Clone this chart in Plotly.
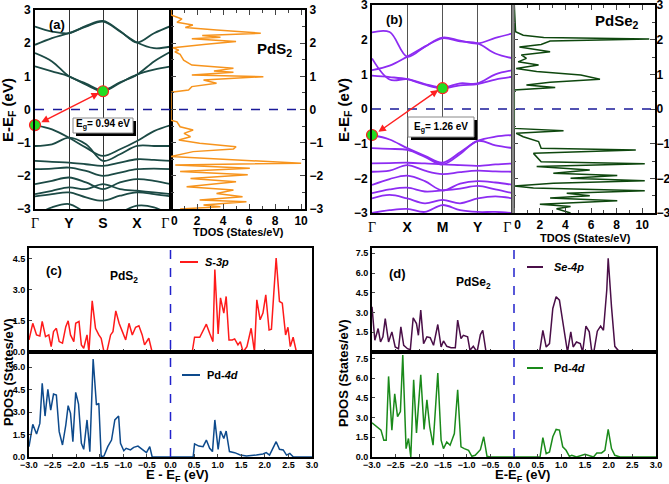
import plotly.graph_objects as go

W, H = 669, 484


def px(x):
    return x / W


def py(y):
    return 1 - y / H


# ---- band structures (energies at k = 0, 0.5, ..., 4) ----
k_pts = [0, 0.5, 1, 1.5, 2, 2.5, 3, 3.5, 4]
kpath_pds2 = ["Γ", "Y", "S", "X", "Γ"]
kpath_pdse2 = ["Γ", "X", "M", "Y", "Γ"]
tdos_ticks = [0, 2, 4, 6, 8, 10]

pds2_bands = [
    [1.30, 1.15, 1.00, 0.75, 0.55, 0.80, 1.05, 1.20, 1.30],
    [1.70, 1.45, 1.00, 0.78, 0.58, 0.82, 1.05, 1.45, 1.75],
    [1.95, 2.15, 2.30, 2.50, 2.65, 2.35, 2.02, 1.85, 1.90],
    [2.50, 2.35, 2.30, 2.52, 2.67, 2.37, 2.02, 2.30, 2.52],
    [-0.47, -0.60, -0.85, -1.15, -1.40, -1.20, -0.95, -0.65, -0.47],
    [-1.10, -1.05, -0.85, -1.05, -1.55, -1.35, -1.10, -1.10, -1.10],
    [-1.55, -1.58, -1.60, -1.65, -1.70, -1.60, -1.50, -1.52, -1.55],
    [-1.80, -1.78, -1.75, -1.85, -2.00, -1.90, -1.80, -1.78, -1.80],
    [-2.25, -2.15, -2.05, -2.20, -2.40, -2.20, -2.10, -2.15, -2.25],
    [-2.55, -2.45, -2.35, -2.40, -2.25, -2.40, -2.45, -2.50, -2.55],
    [-2.62, -2.55, -2.50, -2.65, -2.75, -2.60, -2.50, -2.55, -2.62],
    [-3.20, -2.95, -2.85, -3.10, -3.20, -3.10, -2.90, -2.95, -3.20],
]

pdse2_bands = [
    [0.96, 0.92, 0.86, 0.70, 0.60, 0.68, 0.72, 0.85, 0.93],
    [1.46, 0.85, 0.86, 0.72, 0.62, 0.74, 0.74, 1.00, 1.12],
    [1.12, 1.25, 1.51, 1.80, 2.04, 1.95, 1.89, 1.60, 1.46],
    [2.21, 2.22, 1.51, 1.80, 2.06, 1.97, 1.89, 2.05, 2.18],
    [-0.75, -0.88, -1.13, -1.35, -1.55, -1.25, -0.92, -0.80, -0.75],
    [-1.13, -1.15, -1.18, -1.38, -1.60, -1.30, -0.92, -1.05, -1.13],
    [-1.57, -1.56, -1.55, -1.57, -1.60, -1.62, -1.64, -1.60, -1.57],
    [-1.81, -1.78, -1.62, -1.78, -1.88, -1.82, -1.78, -1.80, -1.81],
    [-2.19, -2.02, -1.92, -2.08, -2.35, -2.15, -2.08, -2.12, -2.19],
    [-2.43, -2.32, -2.27, -2.38, -2.35, -2.30, -2.22, -2.32, -2.43],
    [-2.58, -2.48, -2.58, -2.72, -2.62, -2.72, -2.58, -2.52, -2.58],
    [-3.00, -2.92, -2.88, -2.97, -2.77, -2.92, -2.97, -2.97, -3.00],
]

# band edges (k, E)
pds2_vbm = (0, -0.47)
pds2_cbm = (2, 0.55)
pdse2_vbm = (0, -0.75)
pdse2_cbm = (2, 0.60)

# ---- total DOS ----
tdos_pds2_e = [3.0, 2.85, 2.73, 2.63, 2.55, 2.47, 2.40, 2.30, 2.23, 2.18, 2.13, 2.05,
               1.97, 1.86, 1.79, 1.74, 1.66, 1.59, 1.49, 1.34, 1.24, 1.16, 1.12, 1.04,
               0.99, 0.89, 0.79, 0.69, 0.59, 0.52, -0.32, -0.37, -0.52, -0.62, -0.72,
               -0.82, -0.92, -1.02, -1.12, -1.19, -1.27, -1.42, -1.52, -1.62, -1.67,
               -1.77, -1.87, -1.97, -2.08, -2.18, -2.33, -2.43, -2.53, -2.63, -2.73,
               -2.78, -2.88, -2.93, -3.0]
tdos_pds2 = [0, 0, 0.84, 0.46, 1.68, 1.1, 3.5, 6.9, 2.4, 3.8, 1.6, 5.0,
             2.7, 0.15, 0.6, 0.3, 0.7, 0.8, 0.97, 1.6, 4.8, 3.3, 4.8, 1.6,
             7.1, 2.5, 3.5, 1.6, 1.35, 0, 0, 0.46, 0.7, 1.7, 1.0,
             1.5, 0.6, 2.2, 5.0, 4.8, 1.7, 0, 4.8, 10.0, 0.33,
             6.06, 0.7, 5.9, 1.5, 5.0, 1.2, 4.8, 3.5, 5.5, 2.2,
             5.8, 2.5, 3.8, 0.7]

tdos_pdse2_e = [3.0, 2.23, 2.13, 2.06, 2.02, 1.96, 1.86, 1.79, 1.65, 1.56, 1.46, 1.36,
                1.27, 1.17, 1.08, 0.98, 0.86, 0.77, 0.69, 0.62, 0.55, -0.56, -0.63,
                -0.70, -0.80, -0.94, -1.13, -1.18, -1.28, -1.37, -1.52, -1.58, -1.66,
                -1.76, -1.85, -1.92, -2.00, -2.07, -2.14, -2.22, -2.28, -2.36, -2.43,
                -2.50, -2.57, -2.65, -2.75, -2.81, -2.88, -3.0]
tdos_pdse2 = [0, 0.1, 0.7, 2.3, 10.55, 2.8, 2.1, 0.4, 2.8, 0.55, 0.95, 0.3,
              1.9, 0.15, 1.75, 5.2, 6.7, 2.8, 0.95, 3.2, 0, 0, 3.85,
              0.15, 0.7, 1.9, 2.1, 9.5, 1.5, 1.75, 2.1, 10.2, 1.75,
              5.9, 3.05, 8.05, 4.4, 10.2, 3.05, 0, 1.5, 10.2, 4.1,
              5.9, 2.8, 8.05, 2.0, 4.4, 3.3, 4.4]

# ---- projected DOS, PdS2 ----
s3p_e = [-3.0, -2.92, -2.84, -2.77, -2.72, -2.65, -2.58, -2.53, -2.48, -2.42, -2.36,
         -2.29, -2.22, -2.17, -2.12, -2.05, -2.01, -1.94, -1.89, -1.84, -1.77, -1.73,
         -1.66, -1.59, -1.52, -1.47, -1.41, -1.35, -1.27, -1.22, -1.16, -1.09, -1.02,
         -0.95, -0.88, -0.81, -0.74, -0.67, -0.60, -0.55, -0.46, -0.39, 0.46, 0.51,
         0.62, 0.69, 0.76, 0.83, 0.90, 0.94, 1.01, 1.06, 1.13, 1.18, 1.24, 1.31, 1.36,
         1.43, 1.48, 1.54, 1.62, 1.71, 1.78, 1.83, 1.90, 1.96, 2.02, 2.09, 2.14, 2.19,
         2.24, 2.31, 2.37, 2.44, 2.49, 2.54, 2.60, 2.67, 3.0]
s3p = [0.58, 1.38, 0.82, 0.77, 1.47, 0.74, 0.82, 0.26, 0.98, 1.14, 0.5,
       0.42, 1.22, 1.5, 0.82, 0.5, 1.38, 1.47, 0.34, 0.18, 0.82, 0,
       2.46, 1.14, 0.82, 0.66, 0, 0, 0.82, 0.98, 1.98, 1.38, 0.98,
       0.58, 1.38, 0.82, 1.19, 1.26, 0.82, 0.34, 0.66, 0, 0, 0.71,
       0.71, 1.06, 1.34, 0.9, 0.5, 3.96, 0.87, 2.6, 1.87, 2.67, 0.58, 0.58, 0.63,
       0.34, 0.5, 0, 0.26, 1.14, 0, 2.51, 1.55, 1.87, 2.75, 1.06, 1.1, 2.83,
       4.52, 2.43, 2.35, 0.82, 1.19, 0.26, 0.71, 0, 0]

pd4d_s_e = [-3.0, -2.92, -2.84, -2.77, -2.72, -2.66, -2.60, -2.54, -2.48, -2.42, -2.36,
            -2.29, -2.22, -2.17, -2.12, -2.07, -2.01, -1.95, -1.89, -1.84, -1.77, -1.71,
            -1.64, -1.57, -1.52, -1.47, -1.41, -1.33, -1.25, -1.18, -1.10, -1.06, -0.99,
            -0.94, -0.85, -0.78, -0.69, -0.60, -0.51, -0.44, -0.39, 0.48, 0.51, 0.60,
            0.69, 0.76, 0.83, 0.89, 0.94, 1.01, 1.06, 1.13, 1.18, 1.25, 1.36, 1.48, 1.61,
            1.82, 1.96, 2.03, 2.10, 2.17, 2.24, 2.31, 2.39, 2.46, 2.53, 2.60, 3.0]
pd4d_s = [0.69, 2.18, 1.53, 2.24, 4.91, 2.73, 4.51, 3.13, 4.2, 4.13, 1.69,
          0.8, 2.13, 3.42, 2.91, 1.02, 4.31, 3.53, 0.91, 0.51, 2.47, 0.36,
          6.53, 3.47, 3.58, 0.02, 0.07, 0.69, 1.13, 2.47, 2.73, 0.91, 0.42,
          0.58, 0.47, 0.64, 0.73, 0.51, 0.29, 0.69, 0.02, 0, 0.87, 0.73,
          0.69, 1.13, 0.58, 0.36, 2.47, 0.51, 1.73, 1.24, 1.73, 0.36, 0.29, 0.13, 0.07,
          0.13, 0.2, 0.29, 0.13, 0.58, 1.02, 0.51, 0.47, 0.13, 0.24, 0.02, 0]

# ---- projected DOS, PdSe2 ----
se4p_e = [-3.0, -2.98, -2.94, -2.87, -2.82, -2.77, -2.72, -2.65, -2.58, -2.51, -2.44,
          -2.39, -2.33, -2.25, -2.19, -2.13, -2.06, -2.02, -1.97, -1.91, -1.84, -1.77,
          -1.70, -1.61, -1.54, -1.49, -1.42, -1.33, -1.24, -1.19, -1.12, -1.07, -0.98,
          -0.93, -0.86, -0.78, -0.71, -0.66, -0.59, 0.54, 0.61, 0.68, 0.75, 0.82, 0.89,
          0.96, 1.03, 1.10, 1.13, 1.20, 1.25, 1.32, 1.40, 1.45, 1.52, 1.59, 1.64, 1.69,
          1.76, 1.83, 1.89, 1.96, 1.99, 2.06, 2.13, 2.20, 2.27, 3.0]
se4p = [3.43, 2.67, 0.89, 1.78, 0.76, 1.15, 2.54, 0.76, 1.53, 0.38, 0.25,
        1.91, 0.51, 0.25, 0.18, 2.6, 2.16, 1.27, 3.18, 0.64, 1.15, 1.09,
        0.51, 2.09, 0.38, 0.84, 0.43, 0.33, 0.33, 2.42, 1.02, 1.27, 1.15,
        0.13, 0.43, 0, 1.32, 1.65, 0, 0, 1.65, 0.38, 0.64, 3.31, 4.2,
        3.94, 2.42, 0.89, 0, 1.53, 0.38, 0.76, 0.64, 0, 1.96, 1.53, 0.13, 0.08,
        1.58, 1.96, 1.65, 4.71, 7.12, 3.43, 0.43, 0.13, 0, 0]

pd4d_se_e = [-3.0, -2.89, -2.81, -2.75, -2.70, -2.65, -2.58, -2.52, -2.46, -2.40, -2.35,
             -2.28, -2.23, -2.18, -2.12, -2.06, -1.97, -1.90, -1.84, -1.78, -1.71, -1.61,
             -1.54, -1.49, -1.42, -1.35, -1.26, -1.19, -1.12, -1.05, -0.96, -0.89, -0.82,
             -0.71, -0.64, -0.57, -0.50, 0.55, 0.61, 0.68, 0.75, 0.82, 0.89, 0.96, 1.03,
             1.10, 1.17, 1.22, 1.32, 1.50, 1.57, 1.68, 1.75, 1.85, 1.92, 1.99, 2.06, 2.13,
             2.24, 3.0]
pd4d_se = [2.61, 2.3, 2.05, 1.28, 1.28, 6.14, 2.05, 4.81, 3.07, 3.46, 7.76,
           0.64, 1.41, 0, 5.89, 1.84, 6.27, 2.1, 4.35, 2.3, 0.9, 6.4,
           1.28, 0.64, 1.15, 0.9, 1.79, 5.12, 0.77, 0.64, 0.51, 0.05, 0.13,
           0.56, 1.54, 0.05, 0, 0, 1.48, 0.26, 0.38, 1.54, 2.1, 2.05, 0.77,
           0.51, 0.05, 0.13, 0, 0.2, 0.13, 0, 0.31, 0.31, 0.51, 2.1, 0.64, 0.13,
           0, 0]

FONT = "Liberation Sans"
BOLD = dict(family=FONT, weight="bold", color="black")
NB = "\u00a0"

fig = go.Figure()

# bands
for b in pds2_bands:
    fig.add_trace(go.Scatter(x=k_pts, y=b, mode="lines", line=dict(color="#1c4a45", width=1.8, shape="spline"),
                             xaxis="x", yaxis="y", hoverinfo="skip"))
for b in pdse2_bands:
    fig.add_trace(go.Scatter(x=k_pts, y=b, mode="lines", line=dict(color="#8d2cf2", width=1.8, shape="spline"),
                             xaxis="x3", yaxis="y3", hoverinfo="skip"))

# band edge dots
for (pt, xa, ya) in [(pds2_vbm, "x", "y"), (pds2_cbm, "x", "y"), (pdse2_vbm, "x3", "y3"), (pdse2_cbm, "x3", "y3")]:
    fig.add_trace(go.Scatter(x=[pt[0]], y=[pt[1]], mode="markers", xaxis=xa, yaxis=ya,
                             marker=dict(size=11, color="#22dd22", line=dict(color="#ff2020", width=1.2)),
                             cliponaxis=False, hoverinfo="skip"))

# TDOS
fig.add_trace(go.Scatter(x=tdos_pds2, y=tdos_pds2_e, mode="lines", line=dict(color="#f7941d", width=1.5),
                         xaxis="x2", yaxis="y2"))
fig.add_trace(go.Scatter(x=tdos_pdse2, y=tdos_pdse2_e, mode="lines", line=dict(color="#0e470e", width=1.5),
                         xaxis="x4", yaxis="y4"))

# PDOS
fig.add_trace(go.Scatter(x=s3p_e, y=s3p, mode="lines", line=dict(color="#ff1a1a", width=1.5), xaxis="x5", yaxis="y5"))
fig.add_trace(go.Scatter(x=pd4d_s_e, y=pd4d_s, mode="lines", line=dict(color="#0d4a8c", width=1.5), xaxis="x6", yaxis="y6"))
fig.add_trace(go.Scatter(x=se4p_e, y=se4p, mode="lines", line=dict(color="#4a0f48", width=1.5), xaxis="x7", yaxis="y7"))
fig.add_trace(go.Scatter(x=pd4d_se_e, y=pd4d_se, mode="lines", line=dict(color="#1a8a1a", width=1.5), xaxis="x8", yaxis="y8"))

frame = dict(showline=True, mirror=True, linecolor="black", linewidth=2, zeroline=False, automargin=False,
             ticklabeloverflow="allow")
gam = "<span style='font-family:Liberation Serif;font-weight:normal'>Γ</span>"


def kticks(labels):
    out = [gam if t == "Γ" else t for t in labels]
    out[-1] = gam + NB + NB + NB   # nudge the closing Γ left of the panel border
    return out


tdos_text = [NB + NB + str(t) if t == 0 else str(t) for t in tdos_ticks]

layout = dict(
    width=W, height=H, margin=dict(l=0, r=0, t=0, b=0, pad=0),
    paper_bgcolor="white", plot_bgcolor="white", showlegend=False,
    font=dict(family=FONT, color="black"),
)

# (a) bands
layout["xaxis"] = dict(domain=[px(35), px(171)], range=[0, 4], tickvals=[0, 1, 2, 3, 4],
                       ticktext=kticks(kpath_pds2), showgrid=True, gridcolor="#333", gridwidth=1,
                       ticks="", tickfont=dict(size=14, **BOLD), anchor="y", **frame)
layout["yaxis"] = dict(domain=[py(209), py(10)], range=[-3, 3], dtick=1, showgrid=False, ticks="",
                       tickfont=dict(size=12, **BOLD), anchor="x", **frame)
layout["xaxis2"] = dict(domain=[px(171), px(305)], range=[0, 10.3], tickvals=tdos_ticks, ticktext=tdos_text,
                        showgrid=False, ticks="inside",
                        ticklen=5, minor=dict(ticks="inside", dtick=1, ticklen=3), tickfont=dict(size=12, **BOLD),
                        anchor="y2", **{**frame, "mirror": "ticks"})
layout["yaxis2"] = dict(domain=[py(209), py(10)], range=[-3, 3], dtick=1, showgrid=False, side="right",
                        ticks="inside", ticklen=5, minor=dict(ticks="inside", dtick=0.5, ticklen=3),
                        tickfont=dict(size=12, **BOLD), anchor="x2", **{**frame, "mirror": "ticks"})

# (b) bands
layout["xaxis3"] = dict(domain=[px(372), px(513)], range=[0, 4], tickvals=[0, 1, 2, 3, 4],
                        ticktext=kticks(kpath_pdse2), showgrid=True, gridcolor="#555", gridwidth=1.2,
                        ticks="", tickfont=dict(size=14, **BOLD), anchor="y3", **frame)
layout["yaxis3"] = dict(domain=[py(213), py(5)], range=[-3, 3], dtick=1, showgrid=False, ticks="",
                        tickfont=dict(size=12, **BOLD), anchor="x3", **frame)
layout["xaxis4"] = dict(domain=[px(513), px(655)], range=[-0.1, 11], tickvals=tdos_ticks, ticktext=tdos_text,
                        showgrid=False, ticks="inside",
                        ticklen=5, minor=dict(ticks="inside", dtick=1, ticklen=3), tickfont=dict(size=12, **BOLD),
                        anchor="y4", **{**frame, "mirror": "ticks"})
layout["yaxis4"] = dict(domain=[py(213), py(5)], range=[-3, 3], dtick=1, showgrid=False, side="right",
                        ticks="inside", ticklen=5, minor=dict(ticks="inside", dtick=0.5, ticklen=3),
                        ticklabelstandoff=-3,
                        tickfont=dict(size=12, **BOLD), anchor="x4", **{**frame, "mirror": "ticks"})

# (c) PDOS
pd_x = dict(range=[-3, 3], dtick=0.5, tickformat=".1f", showgrid=False, ticks="inside", ticklen=3,
            tickfont=dict(size=9, **BOLD), **frame)
layout["xaxis5"] = dict(domain=[px(29), px(312)], anchor="y5", showticklabels=False, **pd_x)
layout["yaxis5"] = dict(domain=[py(352), py(248)], range=[0, 5.0], tickvals=[0, 1.5, 3.0, 4.5], tickformat=".1f",
                        showgrid=False, ticks="inside", ticklen=3, tickfont=dict(size=9, **BOLD), anchor="x5", **frame)
layout["xaxis6"] = dict(domain=[px(29), px(312)], anchor="y6", ticklabelstandoff=-2, **pd_x)
layout["yaxis6"] = dict(domain=[py(457), py(352)], range=[0, 7.0], tickvals=[0, 1.5, 3.0, 4.5, 6.0], tickformat=".1f",
                        showgrid=False, ticks="inside", ticklen=3, tickfont=dict(size=9, **BOLD), anchor="x6", **frame)

# (d) PDOS
layout["xaxis7"] = dict(domain=[px(372), px(656)], anchor="y7", showticklabels=False, **pd_x)
layout["yaxis7"] = dict(domain=[py(352), py(248)], range=[0, 7.9], tickvals=[1.5, 3.0, 4.5, 6.0, 7.5], tickformat=".1f",
                        showgrid=False, ticks="inside", ticklen=3, tickfont=dict(size=9, **BOLD), anchor="x7", **frame)
layout["xaxis8"] = dict(domain=[px(372), px(656)], anchor="y8", ticklabelstandoff=-2, **pd_x)
layout["yaxis8"] = dict(domain=[py(457), py(352)], range=[0, 8.0], tickvals=[0, 1.5, 3.0, 4.5, 6.0, 7.5], tickformat=".1f",
                        showgrid=False, ticks="inside", ticklen=3, tickfont=dict(size=9, **BOLD), anchor="x8", **frame)

fig.update_layout(**layout)

shapes = []
# Fermi level lines
shapes.append(dict(type="line", xref="paper", yref="y", x0=px(35), x1=px(305), y0=0, y1=0,
                   line=dict(color="#1a1a99", width=1.5, dash="dash")))
shapes.append(dict(type="line", xref="paper", yref="y3", x0=px(372), x1=px(655), y0=0, y1=0,
                   line=dict(color="#1a1a99", width=1.5, dash="dash")))
for xa in ["x5", "x7"]:
    shapes.append(dict(type="line", xref=xa, yref="paper", x0=0, x1=0, y0=py(457), y1=py(248),
                       line=dict(color="#2222cc", width=1.5, dash="dash")))
# separator line in (b)
shapes.append(dict(type="line", xref="paper", yref="paper", x0=px(513), x1=px(513), y0=py(213), y1=py(5),
                   line=dict(color="#888", width=3)))
# Eg boxes with shadow
for (x0, y0, x1, y1) in [(73, 118, 133, 133), (408, 117, 474, 137)]:
    shapes.append(dict(type="rect", xref="paper", yref="paper", x0=px(x0 + 3), x1=px(x1 + 3), y0=py(y1 + 3), y1=py(y0 + 3),
                       fillcolor="black", line=dict(width=0)))
    shapes.append(dict(type="rect", xref="paper", yref="paper", x0=px(x0), x1=px(x1), y0=py(y1), y1=py(y0),
                       fillcolor="white", line=dict(color="#888", width=1)))
# legend lines
for (x0, x1, y, c) in [(180, 198, 262, "#ff1a1a"), (182, 200, 375, "#0d4a8c"),
                       (527, 543, 267, "#4a0f48"), (527, 543, 368, "#1a8a1a")]:
    shapes.append(dict(type="line", xref="paper", yref="paper", x0=px(x0), x1=px(x1), y0=py(y), y1=py(y),
                       line=dict(color=c, width=2)))
fig.update_layout(shapes=shapes)

ann = []


def txt(x, y, s, size, angle=0, xanchor="center"):
    ann.append(dict(x=px(x), y=py(y), xref="paper", yref="paper", text=s, showarrow=False,
                    font=dict(size=size, **BOLD), textangle=angle, xanchor=xanchor, yanchor="middle"))


txt(8, 110, "E-E<sub>F</sub> (eV)", 15, -90)
txt(344, 110, "E-E<sub>F</sub> (eV)", 15, -90)
txt(238, 232, "TDOS (States/eV)", 11)
txt(585, 238, "TDOS (States/eV)", 11)
txt(57, 25, "(a)", 13)
txt(394, 20, "(b)", 13)
txt(274, 50, "PdS<sub>2</sub>", 15)
txt(617, 22, "PdSe<sub>2</sub>", 15)
txt(103, 125, "E<sub>g</sub>= 0.94 eV", 10)
txt(441, 127, "E<sub>g</sub>= 1.26 eV", 10)
txt(8, 372, "PDOS (States/eV)", 13, -90)
txt(343, 373, "PDOS (States/eV)", 13, -90)
txt(177, 475, "E - E<sub>F</sub> (eV)", 13)
txt(522, 475, "E-E<sub>F</sub> (eV)", 13)
txt(54, 270, "(c)", 13)
txt(124, 277, "PdS<sub>2</sub>", 12)
txt(397, 273, "(d)", 13)
txt(473, 283, "PdSe<sub>2</sub>", 12)
txt(203, 262, "<i>S-3p</i>", 11, xanchor="left")
txt(205, 375, "Pd-<i>4d</i>", 11, xanchor="left")
txt(552, 267, "<i>Se-4p</i>", 11, xanchor="left")
txt(552, 368, "Pd-<i>4d</i>", 11, xanchor="left")

# gap arrows
for (vbm, cbm, xa, ya) in [(pds2_vbm, pds2_cbm, "x", "y"), (pdse2_vbm, pdse2_cbm, "x3", "y3")]:
    ann.append(dict(x=cbm[0] - 0.12, y=cbm[1] - 0.05, ax=vbm[0] + 0.14, ay=vbm[1] + 0.06,
                    xref=xa, yref=ya, axref=xa, ayref=ya, text="", showarrow=True,
                    arrowhead=2, startarrowhead=2, arrowside="end+start", arrowsize=1,
                    arrowwidth=1.5, arrowcolor="#ff2020"))

fig.update_layout(annotations=ann)

# the page's default body margin would shift the whole figure by 8px
fig.write_html("out.html", config={"displayModeBar": False},
               post_script="document.body.style.margin='0';")
